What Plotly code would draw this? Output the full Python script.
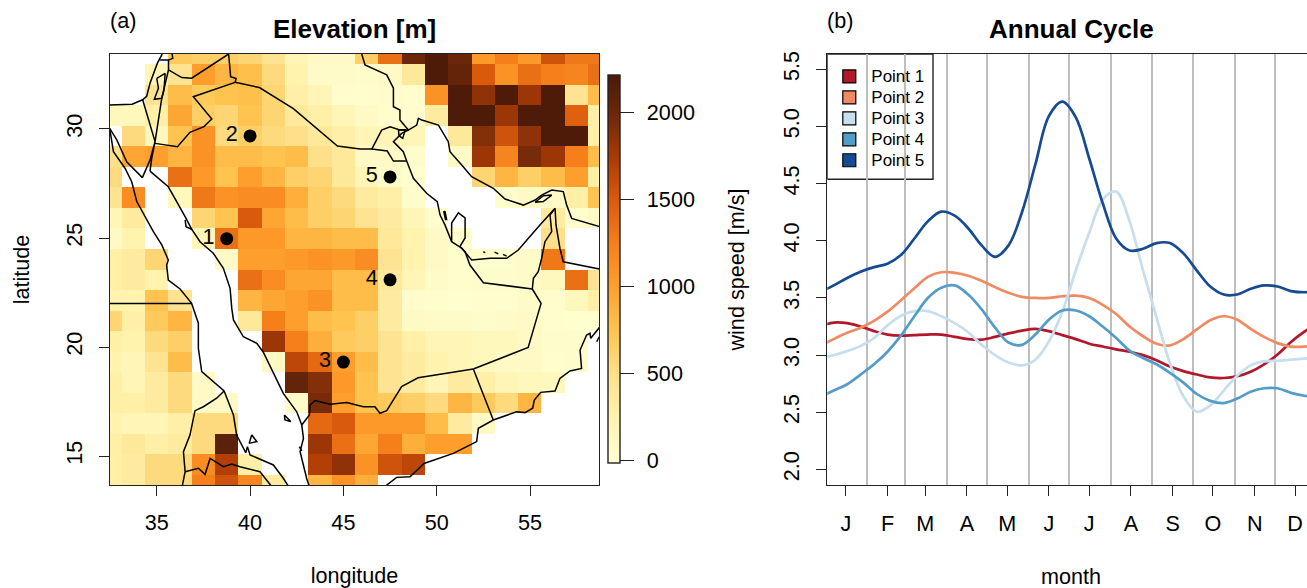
import plotly.graph_objects as go

n = None
lon_centers = [32.5, 33.75, 35.0, 36.25, 37.5, 38.75, 40.0, 41.25, 42.5, 43.75, 45.0,
               46.25, 47.5, 48.75, 50.0, 51.25, 52.5, 53.75, 55.0, 56.25, 57.5, 58.75]
lat_centers = [33.45, 32.51, 31.57, 30.63, 29.68, 28.74, 27.80, 26.85, 25.91, 24.97, 24.03,
               23.08, 22.14, 21.20, 20.26, 19.31, 18.37, 17.43, 16.49, 15.54, 14.60, 13.66]
elevation = [
    [n, n, n, 700, 650, 650, 600, 450, 200, 100, 100, 650, 1350, 2000, 2200, 2000, 1050, 1250, 1050, 1550, 1300, 1300],
    [n, n, 200, 450, 1000, 850, 780, 550, 250, 80, 80, 60, 100, 400, 2200, 2050, 1500, 1100, 1350, 1250, 1200, 1350],
    [n, n, 450, 800, 700, 750, 780, 600, 300, 200, 50, 50, 60, 50, 1100, 2200, 1850, 2200, 1800, 2200, 450, 800],
    [150, 150, 300, 950, 650, 600, 750, 600, 400, 300, 200, 100, 50, 40, 350, 2200, 2200, 1800, 2200, 2200, 1450, 300],
    [n, 550, 150, 750, 1100, 550, 650, 550, 500, 400, 300, 200, 200, 200, n, 400, 1900, 1550, 1850, 2200, 2200, 300],
    [500, 950, 1000, 850, 1100, 800, 800, 750, 800, 500, 400, 100, 100, 60, n, 100, 1800, 1200, 1950, 1800, 1250, 800],
    [550, n, n, 1350, 1050, 750, 1000, 850, 650, 600, 400, 200, 80, 30, n, n, 600, 850, 650, 800, 1000, 300],
    [450, 1150, n, 150, 1300, 1100, 1150, 1150, 900, 650, 550, 350, 300, 60, n, n, n, 50, 100, 100, 300, 750],
    [200, 350, n, n, 600, 750, 1500, 950, 800, 650, 600, 450, 350, 200, 50, n, n, n, n, 350, 50, 100],
    [100, 250, n, n, 200, 1350, 1050, 1050, 850, 850, 800, 800, 400, 250, 100, 50, n, n, n, 500, n, n],
    [300, 350, 600, n, n, 100, 1000, 1000, 1050, 1100, 1050, 1150, 450, 250, 100, 50, 50, 50, 80, 1300, n, n],
    [300, 350, 250, n, n, n, 1350, 1150, 950, 950, 800, 800, 400, 200, 80, 50, 60, 60, 80, 150, 1350, 450],
    [250, 250, 750, 450, n, n, 850, 950, 1000, 1100, 800, 800, 350, 60, 50, 30, 40, 40, 80, 50, 150, 300],
    [600, 300, 700, 850, n, n, 400, 1250, 1000, 800, 750, 650, 350, 100, 80, 80, 60, 80, 100, 50, 30, 30],
    [300, 250, 550, 650, n, n, n, 1800, 1250, 900, 700, 650, 450, 300, 200, 200, 150, 150, 100, 60, 60, n],
    [250, 200, 450, 800, n, n, n, 100, 1650, 1400, 1000, 800, 450, 350, 250, 200, 150, 100, 100, 50, 60, n],
    [300, 200, 350, 550, 100, n, n, n, 2050, 1900, 1050, 750, 450, 350, 200, 350, 300, 200, 150, 150, n, n],
    [300, 300, 350, 550, 100, 100, n, n, 80, 1950, 1000, 750, 700, 650, 550, 850, 700, 550, 850, n, n, n],
    [250, 200, 200, 300, 550, 550, n, n, n, 1400, 1500, 1050, 1050, 1050, 800, 350, 100, n, n, n, n, n],
    [300, 400, 300, 350, 550, 2100, n, n, n, 1800, 1350, 950, 1250, 900, 1000, 1000, n, n, n, n, n, n],
    [300, 350, 550, 550, 1150, 1700, 300, n, n, 1700, 1850, 1100, 1550, 1650, n, n, n, n, n, n, n, n],
    [300, 350, 550, 550, 1250, 1550, 1200, 350, n, 850, 1100, 900, n, n, n, n, n, n, n, n, n, n],
]
scale_values = [-14, 0, 250, 500, 750, 1000, 1250, 1500, 1750, 2000, 2217]
scale_colors = ["#FFFFD8", "#FFFFD4", "#FFF3AE", "#FEE08B", "#FEC44F", "#FE9F2D", "#F57F1B",
                "#D95A0C", "#A83A05", "#6B270A", "#4A1A08"]
bar_ticks = [0, 500, 1000, 1500, 2000]

point_lon = [38.75, 40.0, 45.0, 47.5, 47.5]
point_lat = [24.97, 29.68, 19.31, 23.08, 27.80]
point_names = ["1", "2", "3", "4", "5"]

med_coast = [(32.46, 31.10), (33.68, 31.14), (34.24, 31.34), (34.46, 31.50), (34.64, 32.10), (34.82, 32.49), (35.03, 33.01), (35.27, 33.40), (35.31, 33.5)]
lebanon = [(35.81, 33.5), (35.86, 33.24), (35.63, 33.17), (35.18, 33.17)]
syria = [(35.63, 33.17), (35.63, 32.71), (36.34, 32.36), (36.87, 32.33), (38.85, 33.44), (38.89, 32.94), (38.96, 32.4), (39.25, 32.32), (39.2, 32.14)]
iraq_saudi = [(39.2, 32.14), (40.5, 31.90), (42.32, 30.93), (44.68, 29.22), (45.90, 29.08), (46.52, 29.08), (47.35, 28.99), (47.68, 28.53), (48.39, 28.53)]
kuwait = [(46.52, 29.08), (47.05, 29.95), (47.5, 30.10), (48.03, 29.95), (48.48, 29.95), (48.12, 29.8), (47.68, 29.42), (48.21, 28.96), (48.39, 28.53)]
bubiyan = [(47.95, 29.96), (48.31, 29.96), (48.18, 29.57), (47.98, 29.69), (47.95, 29.96)]
saudi_gulf = [(48.39, 28.53), (48.75, 27.74), (49.46, 27.05), (50.03, 26.67), (50.18, 26.05), (50.44, 25.6), (50.8, 24.83), (51.34, 24.53), (51.87, 23.99), (52.86, 24.07), (53.75, 24.07), (54.37, 24.45), (55.53, 25.6), (56.25, 26.28), (56.34, 26.36)]
qatar = [(50.8, 24.83), (50.8, 25.69), (51.16, 26.15), (51.52, 25.92), (51.52, 25.0), (51.24, 24.61), (51.34, 24.53)]
bahrain = [(50.44, 26.23), (50.53, 25.85), (50.47, 25.85), (50.38, 26.2), (50.44, 26.23)]
iran = [(45.98, 33.44), (46.16, 32.94), (47.32, 32.48), (47.68, 31.87), (47.68, 31.02), (48.03, 30.87), (48.03, 30.41), (48.48, 29.95), (48.93, 30.18), (49.02, 30.49), (49.2, 30.41), (50.09, 30.18), (50.62, 29.42), (50.71, 28.96), (51.34, 28.35), (51.87, 27.81), (53.03, 27.28), (53.66, 26.79), (54.64, 26.51), (55.27, 26.74), (55.62, 26.97), (56.16, 27.2), (56.78, 27.13), (56.96, 26.51), (57.23, 25.9), (58.71, 25.52), (58.93, 25.47)]
musandam = [(55.27, 26.64), (55.71, 26.94), (56.16, 26.97), (55.71, 26.67), (55.27, 26.64)]
oman_coast = [(56.34, 26.36), (56.39, 25.6), (56.6, 24.53), (56.78, 23.91), (58.71, 23.58), (58.93, 23.53)]
uae_oman = [(56.34, 26.36), (56.07, 26.05), (56.16, 25.29), (55.8, 24.83), (55.62, 24.07), (55.44, 23.45), (55.18, 23.15), (55.12, 22.66)]
uae_saudi = [(55.12, 22.66), (52.5, 22.95), (51.78, 23.76), (51.52, 24.37), (51.34, 24.53)]
saudi_oman = [(55.12, 22.66), (55.59, 22.0), (54.9, 19.98), (51.96, 18.99)]
saudi_yemen = [(51.96, 18.99), (49.0, 18.59), (48.12, 18.18), (47.32, 17.08), (46.96, 16.96), (46.69, 17.26), (46.07, 17.26), (45.36, 17.39), (45.18, 17.45), (44.29, 17.37), (43.48, 17.54), (43.21, 17.34), (43.18, 16.88), (42.77, 16.42)]
yemen_oman = [(51.96, 18.99), (53.03, 16.65)]
arabian_coast = [(47.0, 13.45), (47.35, 13.70), (47.85, 14.02), (48.57, 14.05), (49.32, 14.66), (50.89, 15.12), (52.14, 15.66), (52.23, 16.27), (53.03, 16.65), (54.28, 17.03), (54.73, 16.99), (55.14, 17.19), (55.23, 17.57), (55.57, 17.92), (56.34, 17.98), (56.6, 18.56), (57.14, 18.9), (57.76, 19.02), (57.68, 19.86), (58.03, 20.55), (58.21, 20.63), (58.25, 20.4), (58.66, 20.86), (59.1, 21.3)]
masirah = [(58.57, 20.24), (58.71, 20.47)]
red_sea_east = [(34.64, 28.07), (35.62, 27.35), (36.52, 25.98), (36.87, 25.41), (37.32, 24.83), (38.03, 24.3), (38.57, 23.61), (38.93, 22.69), (39.02, 21.77), (39.11, 21.24), (39.64, 20.47), (40.36, 20.17), (40.71, 19.76), (41.34, 18.64), (41.78, 17.87), (42.5, 17.03), (42.77, 16.42), (42.86, 15.81), (42.68, 15.2), (43.03, 13.98), (43.21, 13.5)]
saudi_hook = [(36.52, 25.83), (36.57, 25.52), (36.93, 25.37)]
aqaba = [(34.64, 28.07), (34.73, 28.65), (34.91, 29.42), (34.64, 28.58), (34.23, 27.77)]
sinai = [(32.48, 30.03), (32.86, 29.5), (33.39, 28.5), (34.23, 27.77)]
red_sea_west = [(32.48, 30.03), (32.59, 29.34), (32.68, 28.96), (33.3, 28.2), (33.66, 27.58), (33.93, 26.67), (34.82, 25.29), (35.27, 24.68), (35.62, 23.99), (35.53, 23.76), (35.62, 23.07), (36.25, 22.66), (36.87, 22.0), (37.23, 21.09), (37.23, 19.94), (37.41, 18.87), (38.12, 18.33), (38.61, 17.98), (39.11, 16.88), (39.28, 15.96), (39.77, 15.15), (39.86, 15.43), (40.0, 15.05), (41.25, 14.59), (41.78, 13.98), (42.14, 13.5)]
egypt_sudan = [(32.4, 22.0), (36.87, 22.0)]
sudan_eritrea = [(38.61, 17.98), (38.21, 17.65), (37.5, 17.26), (37.05, 17.08), (36.78, 15.96), (36.43, 15.2), (36.52, 14.28), (36.34, 13.5)]
eritrea_ethiopia = [(36.52, 14.28), (37.23, 14.44), (37.59, 14.16), (37.86, 14.89), (38.57, 14.51), (39.02, 14.63), (39.46, 14.51), (40.53, 14.28), (41.25, 13.5)]
israel_egypt = [(34.25, 31.33), (34.55, 30.49), (34.91, 29.42)]
west_bank = [(35.0, 32.32), (35.45, 32.55), (35.39, 31.79), (35.27, 31.41), (34.87, 31.36), (35.09, 31.87), (35.0, 32.32)]
jordan_west = [(35.63, 32.71), (35.39, 31.79), (35.27, 31.41), (34.91, 29.42)]
jordan_saudi = [(39.2, 32.14), (36.96, 31.48), (37.95, 30.46), (37.53, 30.11), (36.78, 29.85), (36.11, 29.19), (34.91, 29.34)]
island_a = [(41.84, 16.88), (42.18, 16.58), (41.87, 16.65), (41.84, 16.88)]
island_b = [(39.95, 15.58), (40.36, 15.66), (40.09, 15.96), (39.95, 15.58)]
island_c = [(42.64, 15.43), (42.77, 15.23)]
island_d = [(52.5, 24.37), (52.6, 24.33)]
island_e = [(53.1, 24.35), (53.3, 24.27)]
island_f = [(53.55, 24.25), (53.75, 24.17)]
outlines = [med_coast, lebanon, syria, iraq_saudi, kuwait, bubiyan, saudi_gulf, qatar, bahrain, iran, musandam,
            oman_coast, uae_oman, uae_saudi, saudi_oman, saudi_yemen, yemen_oman, arabian_coast, masirah,
            red_sea_east, saudi_hook, aqaba, sinai, red_sea_west, egypt_sudan, sudan_eritrea, eritrea_ethiopia,
            israel_egypt, west_bank, jordan_west, jordan_saudi, island_a, island_b, island_c, island_d, island_e, island_f]

month_labels = ["J", "F", "M", "A", "M", "J", "J", "A", "S", "O", "N", "D"]
month_mid = [15, 46, 74, 105, 135, 166, 196, 227, 258, 288, 319, 349]
month_end = [31, 59, 90, 120, 151, 181, 212, 243, 273, 304, 334]
wind_ticks = [2.0, 2.5, 3.0, 3.5, 4.0, 4.5, 5.0, 5.5]

series_names = ["Point 1", "Point 2", "Point 3", "Point 4", "Point 5"]
series_colors = ["#B2182B", "#EF8A62", "#C6DEEE", "#549CC8", "#164A91"]

day = [-4, 6, 16, 26, 36, 46, 56, 66, 76, 86, 96, 106, 116, 126, 136, 146, 156, 166, 176,
       186, 196, 206, 216, 226, 236, 246, 256, 266, 276, 286, 296, 306, 316, 326, 336, 346, 356, 366]
wind_1 = [3.25, 3.285, 3.28, 3.25, 3.21, 3.18, 3.17, 3.175, 3.18, 3.18, 3.16, 3.14, 3.135, 3.16, 3.19, 3.215, 3.23, 3.21, 3.175,
          3.14, 3.10, 3.075, 3.05, 3.03, 3.00, 2.955, 2.90, 2.86, 2.83, 2.805, 2.80, 2.815, 2.855, 2.92, 3.005, 3.115, 3.205, 3.28]
wind_2 = [3.08, 3.14, 3.195, 3.24, 3.30, 3.38, 3.48, 3.585, 3.685, 3.725, 3.72, 3.695, 3.65, 3.595, 3.545, 3.51, 3.50, 3.50, 3.515,
          3.52, 3.50, 3.44, 3.36, 3.25, 3.165, 3.10, 3.085, 3.14, 3.225, 3.305, 3.34, 3.31, 3.23, 3.16, 3.105, 3.075, 3.075, 3.09]
wind_3 = [2.975, 3.0, 3.035, 3.08, 3.15, 3.26, 3.345, 3.385, 3.385, 3.34, 3.28, 3.20, 3.09, 3.00, 2.935, 2.91, 2.96, 3.12, 3.38,
          3.74, 4.07, 4.36, 4.43, 4.17, 3.74, 3.33, 2.93, 2.64, 2.505, 2.56, 2.69, 2.82, 2.91, 2.945, 2.95, 2.96, 2.97, 2.98]
wind_4 = [2.635, 2.69, 2.745, 2.83, 2.92, 3.03, 3.17, 3.34, 3.50, 3.59, 3.61, 3.53, 3.40, 3.24, 3.11, 3.09, 3.18, 3.31, 3.39,
          3.39, 3.34, 3.25, 3.15, 3.04, 2.975, 2.92, 2.845, 2.76, 2.66, 2.60, 2.58, 2.62, 2.68, 2.71, 2.71, 2.67, 2.645, 2.63]
wind_5 = [3.55, 3.61, 3.675, 3.73, 3.77, 3.80, 3.875, 4.02, 4.17, 4.255, 4.22, 4.11, 3.96, 3.86, 3.96, 4.25, 4.67, 5.09, 5.217,
          5.08, 4.72, 4.33, 4.02, 3.915, 3.93, 3.98, 3.98, 3.89, 3.74, 3.60, 3.53, 3.53, 3.58, 3.61, 3.60, 3.56, 3.55, 3.56]
winds = [wind_1, wind_2, wind_3, wind_4, wind_5]

FONT = "Liberation Sans"
TEXT = 21.6
AXIS = "#222222"

z_span = scale_values[-1] - scale_values[0]
colorscale = [[(v - scale_values[0]) / z_span, c] for v, c in zip(scale_values, scale_colors)]

fig = go.Figure()
fig.add_trace(go.Heatmap(
    x=lon_centers, y=lat_centers[::-1], z=elevation[::-1], zmin=scale_values[0], zmax=scale_values[-1],
    colorscale=colorscale, xaxis="x", yaxis="y", hoverongaps=False,
    colorbar=dict(x=608.3 / 1307, xanchor="left", xpad=0, ypad=0, thickness=12.4, thicknessmode="pixels",
                  lenmode="pixels", len=388.3, y=1 - 269.15 / 588, yanchor="middle",
                  tickmode="array", tickvals=bar_ticks,
                  ticktext=['<span style="font-size:30px">&nbsp;</span>' + str(v) for v in bar_ticks],
                  ticks="outside", ticklen=14, tickwidth=1.4, tickcolor=AXIS, outlinecolor=AXIS, outlinewidth=1.4,
                  tickfont=dict(family=FONT, size=TEXT, color="black")),
))

border_x, border_y = [], []
for outline in outlines:
    border_x += [p[0] for p in outline] + [None]
    border_y += [p[1] for p in outline] + [None]
fig.add_trace(go.Scatter(x=border_x, y=border_y, mode="lines", line=dict(color="black", width=1.5),
                         xaxis="x", yaxis="y", showlegend=False, hoverinfo="skip"))
fig.add_trace(go.Scatter(x=point_lon, y=point_lat, mode="markers", marker=dict(color="black", size=13),
                         xaxis="x", yaxis="y", showlegend=False))
fig.add_trace(go.Scatter(x=point_lon, y=point_lat, mode="markers+text", text=point_names,
                         textposition="middle left", textfont=dict(family=FONT, size=TEXT, color="black"),
                         marker=dict(color="black", size=18, opacity=0), xaxis="x", yaxis="y", showlegend=False,
                         hoverinfo="skip"))

for name, color, w in zip(series_names, series_colors, winds):
    fig.add_trace(go.Scatter(x=day, y=w, mode="lines", line=dict(color=color, width=2.7, shape="spline", smoothing=1.0),
                             xaxis="x2", yaxis="y2", showlegend=False, name=name))
for name, color in zip(series_names, series_colors):
    fig.add_trace(go.Scatter(x=[None], y=[None], mode="markers", name='<span style="font-size:17px">' + name + "</span>",
                             xaxis="x2", yaxis="y2",
                             marker=dict(symbol="square", size=13, color=color, line=dict(color="black", width=1.2))))

common = dict(showline=True, linecolor=AXIS, linewidth=1.4, ticks="outside", ticklen=10, tickwidth=1.4,
              tickcolor=AXIS, showgrid=False, zeroline=False,
              tickfont=dict(family=FONT, size=TEXT, color="black"))
fig.update_layout(
    width=1307, height=588, autosize=False, margin=dict(l=0, r=0, t=0, b=0, autoexpand=False),
    plot_bgcolor="white", paper_bgcolor="white", font=dict(family=FONT, size=TEXT, color="black"),
    xaxis=dict(domain=[109.7 / 1307, 599.3 / 1307], range=[32.48, 58.71], tickmode="array",
               tickvals=[35, 40, 45, 50, 55], mirror=True, ticklabelstandoff=8,
               title=dict(text="longitude", standoff=37, font=dict(family=FONT, size=TEXT)), **common),
    yaxis=dict(domain=[1 - 485 / 588, 1 - 54 / 588], range=[13.67, 33.44], tickmode="array",
               tickvals=[15, 20, 25, 30], tickangle=-90, mirror=True, ticklabelstandoff=8,
               title=dict(text="latitude", standoff=26, font=dict(family=FONT, size=TEXT)), **common),
    xaxis2=dict(domain=[827.3 / 1307, 1], range=[1.26, 357.9], tickmode="array", tickvals=month_mid,
                ticktext=month_labels, mirror=True, anchor="y2", ticklabelstandoff=9,
                minor=dict(tickmode="array", tickvals=month_end, showgrid=True, gridcolor="#BEBEBE", gridwidth=1.6, ticks=""),
                **common),
    yaxis2=dict(domain=[1 - 485 / 588, 1 - 54 / 588], range=[1.864, 5.634], tickmode="array", tickvals=wind_ticks,
                tickformat=".1f", tickangle=-90, anchor="x2", ticklabelstandoff=8,
                title=dict(text="wind speed [m/s]", standoff=28, font=dict(family=FONT, size=TEXT)), **common),
    legend=dict(x=827.3 / 1307, xanchor="left", y=1 - 61 / 588, yanchor="top", bgcolor="rgba(0,0,0,0)", borderwidth=0,
                itemwidth=34, font=dict(family=FONT, size=13.8, color="black"), itemclick=False, itemdoubleclick=False),
    shapes=[dict(type="rect", xref="x2", yref="y2", x0=1.26, x1=79.85, y0=4.538, y1=5.634,
                 fillcolor="white", line=dict(color=AXIS, width=1.4), layer="below")],
    annotations=[
        dict(text="<b>Elevation [m]</b>", x=354.5 / 1307, y=1 - 29 / 588, xref="paper", yref="paper", showarrow=False,
             xanchor="center", yanchor="middle", font=dict(family=FONT, size=26, color="black")),
        dict(text="<b>Annual Cycle</b>", x=1071 / 1307, y=1 - 29 / 588, xref="paper", yref="paper", showarrow=False,
             xanchor="center", yanchor="middle", font=dict(family=FONT, size=26, color="black")),
        dict(text="(a)", x=108 / 1307, y=1 - 20 / 588, xref="paper", yref="paper", showarrow=False,
             xanchor="left", yanchor="middle", font=dict(family=FONT, size=TEXT, color="black")),
        dict(text="(b)", x=825 / 1307, y=1 - 20 / 588, xref="paper", yref="paper", showarrow=False,
             xanchor="left", yanchor="middle", font=dict(family=FONT, size=TEXT, color="black")),
        dict(text="month", x=1071 / 1307, y=1 - 576 / 588, xref="paper", yref="paper", showarrow=False,
             xanchor="center", yanchor="middle", font=dict(family=FONT, size=TEXT, color="black")),
    ],
)
fig.write_html("out.html", config=dict(displayModeBar=False), post_script="document.body.style.margin='0';")
